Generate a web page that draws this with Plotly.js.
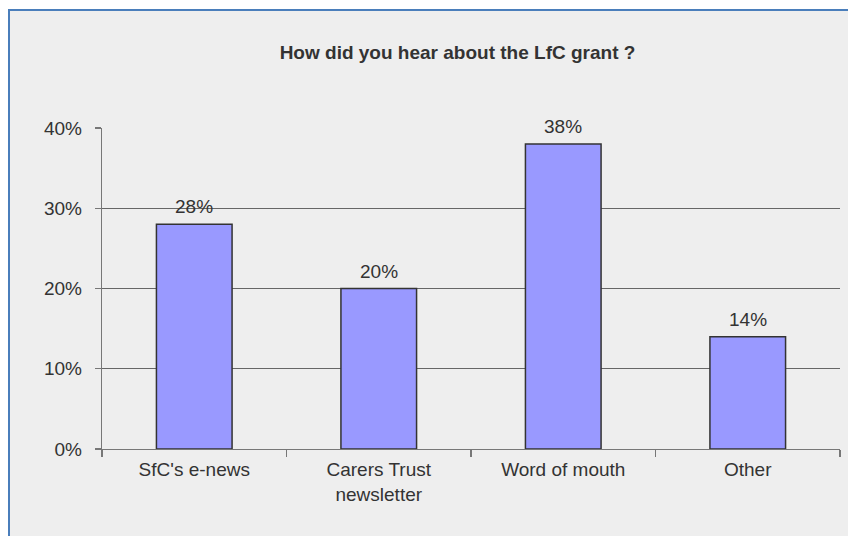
<!DOCTYPE html>
<html><head><meta charset="utf-8">
<script src="https://cdn.plot.ly/plotly-3.0.1.min.js"></script>
<style>
html,body{margin:0;padding:0;background:#fff;width:848px;height:536px;overflow:hidden}
#wrap{position:absolute;left:8px;top:9px;width:840px;height:527px;border-left:2px solid #4a7ebb;border-top:2px solid #4a7ebb;background:#eeeeee}
#chart{position:absolute;left:0;top:0;width:838px;height:525px}
</style></head>
<body><div id="wrap"><div id="chart"></div></div>
<script>
const categories = ["SfC's e-news", "Carers Trust<br>newsletter", "Word of mouth", "Other"];
const values = [0.28, 0.20, 0.38, 0.14];
const valueLabels = ["28%", "20%", "38%", "14%"];
const yTicks = [0, 0.1, 0.2, 0.3, 0.4];
const yTickLabels = ["0%", "10%", "20%", "30%", "40%"];

const font = {family: "Liberation Sans, Arial, sans-serif", size: 19, color: "#333333"};

const trace = {
  type: "bar",
  x: categories,
  y: values,
  marker: {color: "#9999ff", line: {color: "#333333", width: 1.5}},
  hoverinfo: "none"
};

const annotations = categories.map((c, i) => ({
  x: c, y: values[i], xref: "x", yref: "y",
  text: valueLabels[i], showarrow: false,
  yanchor: "bottom", yshift: 5,
  font: font
}));

const layout = {
  width: 838, height: 525,
  margin: {l: 92, r: 8, t: 117, b: 87},
  paper_bgcolor: "#eeeeee",
  plot_bgcolor: "#eeeeee",
  showlegend: false,
  bargap: 0.59,
  title: {
    text: "<b>How did you hear about the LfC grant ?</b>",
    font: {family: "Liberation Sans, Arial, sans-serif", size: 19, color: "#333333"},
    x: (457.5 - 10) / 838, xref: "container", xanchor: "center",
    y: 1 - 41/525, yref: "container", yanchor: "middle"
  },
  xaxis: {
    type: "category",
    showline: true, linecolor: "#777777", linewidth: 1.2,
    ticks: "outside", tickson: "boundaries", ticklen: 7, tickcolor: "#777777", tickwidth: 1.2,
    tickfont: font,
    ticklabelstandoff: 3,
    showgrid: false, zeroline: false,
    fixedrange: true
  },
  yaxis: {
    range: [0, 0.4],
    tickvals: yTicks, ticktext: yTickLabels,
    ticks: "outside", ticklen: 6, tickcolor: "#777777", tickwidth: 1.2,
    showline: true, linecolor: "#777777", linewidth: 1.2,
    showgrid: true, gridcolor: "#666666", gridwidth: 1,
    zeroline: false,
    tickfont: font,
    ticklabelstandoff: 9,
    fixedrange: true
  },
  annotations: annotations
};

Plotly.newPlot("chart", [trace], layout, {displayModeBar: false, staticPlot: true});
</script>
</body></html>
